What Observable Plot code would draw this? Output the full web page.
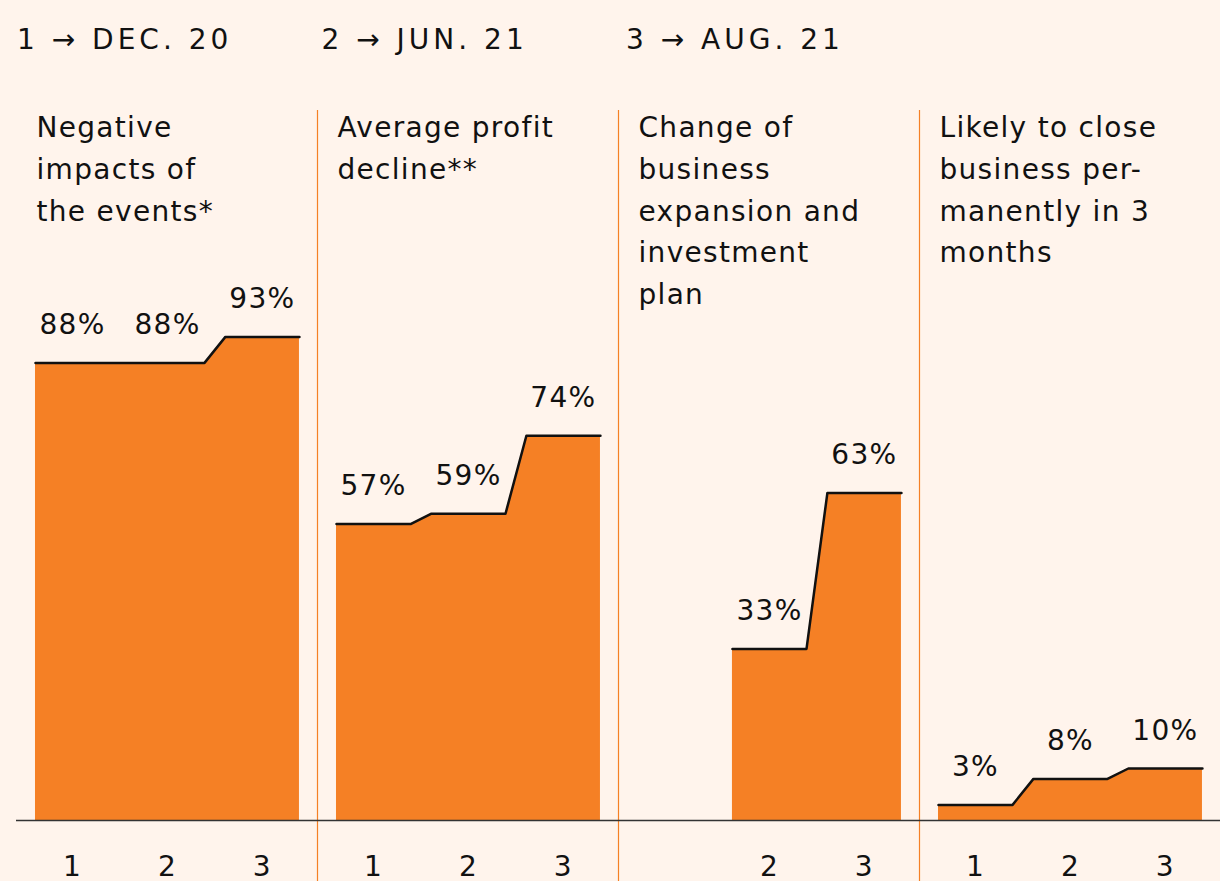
<!DOCTYPE html>
<html><head><meta charset="utf-8">
<script src="https://cdn.jsdelivr.net/npm/d3@7"></script>
<script src="https://cdn.jsdelivr.net/npm/@observablehq/plot@0.6"></script>
<style>
html,body{margin:0;padding:0;background:#FFF4EC;}
#wrap{position:relative;width:1220px;height:881px;overflow:hidden;}
#chart{position:absolute;left:0;top:0;}
.hdr{position:absolute;top:26px;font-family:"DejaVu Sans";font-size:28px;line-height:28px;letter-spacing:4px;color:#111;white-space:nowrap;}
</style></head><body>
<div id="wrap"><div id="chart"></div><div id="header"></div></div>
<script>
// ---- data ----
const surveyKeys = ["1 → DEC. 20", "2 → JUN. 21", "3 → AUG. 21"];
const surveys = [1, 2, 3];
const panelIds = ["impacts", "profit", "expansion", "closing"];
const panelTitles = [
  "Negative\nimpacts of\nthe events*",
  "Average profit\ndecline**",
  "Change of\nbusiness\nexpansion and\ninvestment\nplan",
  "Likely to close\nbusiness per-\nmanently in 3\nmonths"
];
const negativeImpacts = [88, 88, 93];
const profitDecline = [57, 59, 74];
const expansionChange = [null, 33, 63];
const closePermanently = [3, 8, 10];

// ---- header ----
const header = document.getElementById("header");
surveyKeys.forEach((k, i) => {
  const s = document.createElement("span");
  s.className = "hdr";
  s.style.left = (17 + i * 304.5) + "px";
  s.textContent = k;
  header.appendChild(s);
});

// ---- build tables ----
const half = 0.39;
const series = [negativeImpacts, profitDecline, expansionChange, closePermanently];
const verts = [], labels = [];
series.forEach((vals, p) => {
  vals.forEach((v, i) => {
    if (v == null) return;
    const s = surveys[i];
    verts.push({panel: panelIds[p], x: s - half, y: v});
    verts.push({panel: panelIds[p], x: s + half, y: v});
    labels.push({panel: panelIds[p], x: s, y: v, value: v + "%", tick: String(s)});
  });
});
const titles = panelIds.map((id, i) => ({panel: id, title: panelTitles[i]}));
const xDomain = [0.41, 3.58];
const orange = "#F58025";

const chart = Plot.plot({
  width: 1220, height: 881,
  marginLeft: 16, marginRight: 0, marginTop: 300, marginBottom: 61,
  style: {background: "transparent", fontFamily: "DejaVu Sans", color: "#111", overflow: "visible", letterSpacing: "1.3px"},
  fx: {domain: panelIds, axis: null, padding: 0},
  x: {domain: xDomain, axis: null},
  y: {domain: [0, 100], axis: null},
  marks: [
    Plot.areaY(verts, {fx: "panel", x: "x", y: "y", fill: orange}),
    Plot.ruleX(panelIds.slice(1), {fx: d => d, x: () => xDomain[0], stroke: orange, strokeWidth: 1.2, insetTop: -190, insetBottom: -61}),
    Plot.ruleY([0], {stroke: "#333", strokeWidth: 1.5}),
    Plot.lineY(verts, {fx: "panel", x: "x", y: "y", stroke: "#111", strokeWidth: 2.5}),
    Plot.text(labels, {fx: "panel", x: "x", y: "y", text: "value", dy: -29, lineAnchor: "bottom", fontSize: 28, fill: "#111"}),
    Plot.text(labels, {fx: "panel", x: "x", y: () => 0, text: "tick", dy: 55, lineAnchor: "bottom", fontSize: 28, fill: "#111"}),
    Plot.text(titles, {fx: "panel", text: "title", frameAnchor: "top-left", textAnchor: "start", lineAnchor: "top", lineHeight: 1.49, dx: 20, dy: -193, fontSize: 28, fill: "#111"})
  ]
});
document.getElementById("chart").appendChild(chart);
</script>
</body></html>
